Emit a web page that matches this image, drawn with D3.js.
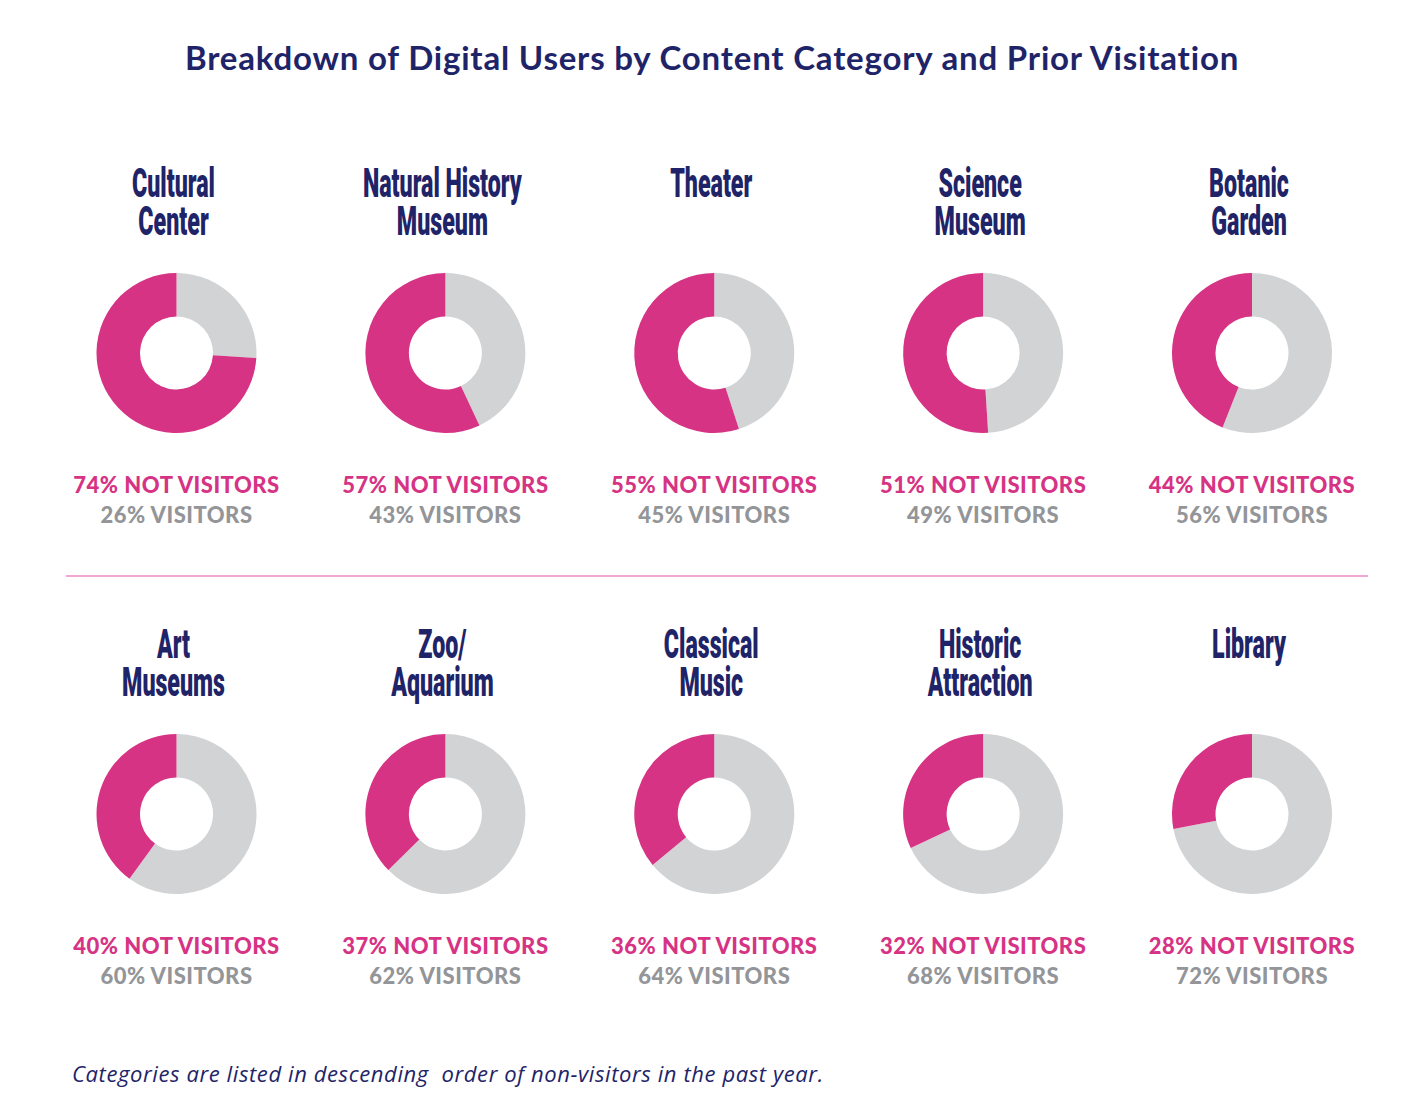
<!DOCTYPE html>
<html>
<head>
<meta charset="utf-8">
<script src="https://cdn.jsdelivr.net/npm/d3@7"></script>
<style>
  body { margin: 0; background: #fff; }
</style>
</head>
<body>
<div id="chart"></div>
<script>
// Dữ liệu
const categories = [
  ["Cultural", "Center"],
  ["Natural History", "Museum"],
  ["Theater"],
  ["Science", "Museum"],
  ["Botanic", "Garden"],
  ["Art", "Museums"],
  ["Zoo/", "Aquarium"],
  ["Classical", "Music"],
  ["Historic", "Attraction"],
  ["Library"]
];
const notVisitors = [74, 57, 55, 51, 44, 40, 37, 36, 32, 28];
const visitors = [26, 43, 45, 49, 56, 60, 62, 64, 68, 72];

const title = "Breakdown of Digital Users by Content Category and Prior Visitation";
const footnote = "Categories are listed in descending  order of non-visitors in the past year.";

const width = 1428, height = 1104;
const pink = "#d63384", lightGrey = "#d1d3d4", navy = "#1f2468", textGrey = "#939598";

const svg = d3.select("#chart")
  .append("svg")
  .attr("width", width)
  .attr("height", height);

// Tiêu đề
svg.append("text")
  .attr("x", 712)
  .attr("y", 70)
  .attr("text-anchor", "middle")
  .style("font-family", "Lato, 'Open Sans', sans-serif")
  .style("font-size", "33px")
  .style("font-weight", "bold")
  .style("letter-spacing", "0.8px")
  .style("fill", navy)
  .text(title);

// Đường phân cách
svg.append("line")
  .attr("x1", 66).attr("x2", 1368)
  .attr("y1", 576).attr("y2", 576)
  .attr("stroke", "#ec8cc2")
  .attr("stroke-width", 1.5);

// Thang đo
const xScale = d3.scalePoint().domain(d3.range(5)).range([176.5, 1252]);
const rowY = [353, 814];

const pie = d3.pie().sort(null).value(d => d);
const arc = d3.arc().innerRadius(36.5).outerRadius(80);

categories.forEach((lines, i) => {
  const col = i % 5, row = Math.floor(i / 5);
  const cx = xScale(col), cy = rowY[row];
  const g = svg.append("g").attr("transform", `translate(${cx},${cy})`);

  // Tên danh mục (chữ hẹp)
  const t = g.append("text")
    .attr("transform", `translate(-3,-156) scale(0.58,1)`)
    .attr("text-anchor", "middle")
    .style("font-family", "Roboto, sans-serif")
    .style("font-size", "40px")
    .style("font-weight", "900")
    .style("fill", navy);
  lines.forEach((line, j) => {
    t.append("tspan")
      .attr("x", 0)
      .attr("dy", j === 0 ? 0 : 38.5)
      .text(line);
  });

  // Donut
  g.selectAll("path")
    .data(pie([visitors[i], notVisitors[i]]))
    .enter().append("path")
    .attr("d", arc)
    .attr("fill", (d, k) => k === 0 ? lightGrey : pink);

  // Nhãn phần trăm
  g.append("text")
    .attr("y", 140)
    .attr("text-anchor", "middle")
    .style("font-family", "Lato, sans-serif")
    .style("font-size", "22px")
    .style("font-weight", "900")
    .style("letter-spacing", "0.5px")
    .style("fill", pink)
    .text(`${notVisitors[i]}% NOT VISITORS`);

  g.append("text")
    .attr("y", 170)
    .attr("text-anchor", "middle")
    .style("font-family", "Lato, sans-serif")
    .style("font-size", "22px")
    .style("font-weight", "900")
    .style("letter-spacing", "0.5px")
    .style("fill", textGrey)
    .text(`${visitors[i]}% VISITORS`);
});

// Chú thích
svg.append("text")
  .attr("x", 72)
  .attr("y", 1082)
  .attr("xml:space", "preserve")
  .style("white-space", "pre")
  .style("font-family", "'Open Sans', sans-serif")
  .style("font-size", "22px")
  .style("font-style", "italic")
  .style("letter-spacing", "0.6px")
  .style("fill", navy)
  .text(footnote);
</script>
</body>
</html>
